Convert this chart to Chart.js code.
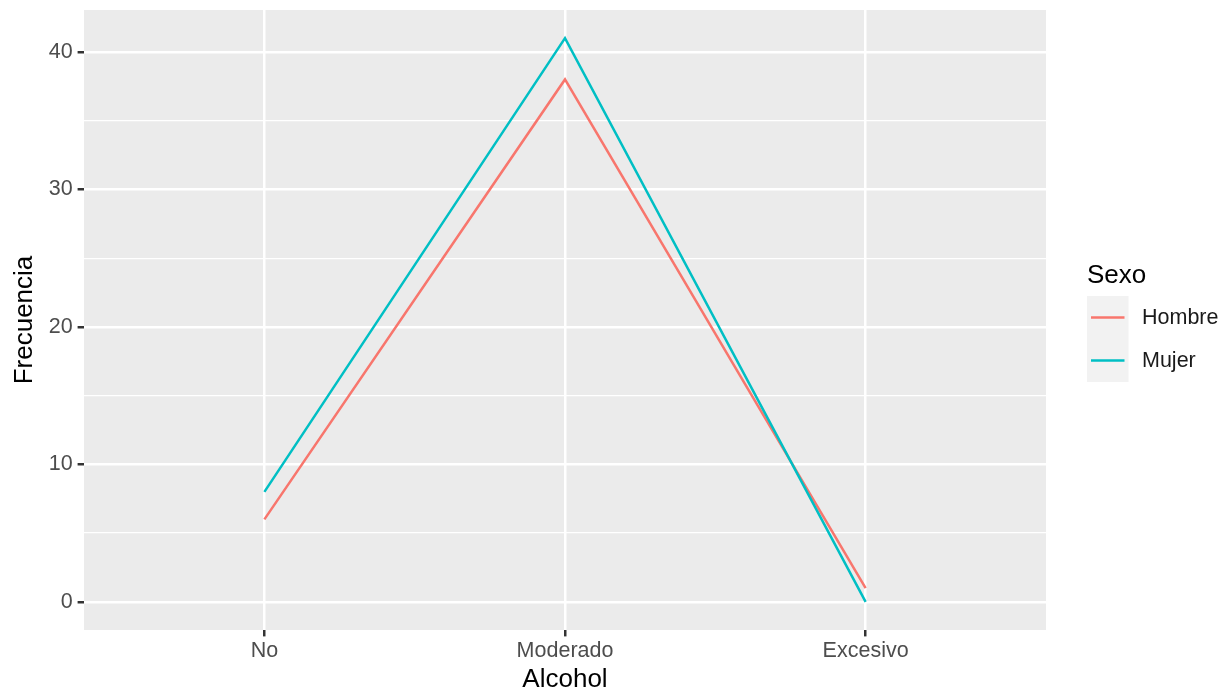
<!DOCTYPE html>
<html>
<head>
<meta charset="utf-8">
<script src="https://cdn.jsdelivr.net/npm/chart.js@4/dist/chart.umd.min.js"></script>
<style>
  html, body { margin: 0; padding: 0; background: #fff; }
  canvas { display: block; }
</style>
</head>
<body>
<canvas id="chart" width="1230" height="692"></canvas>
<script>
// datos
const categorias = ['No', 'Moderado', 'Excesivo'];
const hombre = [6, 38, 1];
const mujer = [8, 41, 0];
const yTicks = [0, 5, 10, 15, 20, 25, 30, 35, 40];
const yLabels = [0, 10, 20, 30, 40];

const FONT = '"Liberation Sans", Arial, Helvetica, sans-serif';

// fondo gris del panel (estilo ggplot)
const panelBg = {
    id: 'panelBg',
    beforeDraw(chart) {
        const a = chart.chartArea;
        const c = chart.ctx;
        c.save();
        c.fillStyle = '#EBEBEB';
        c.fillRect(a.left, a.top, a.right - a.left, a.bottom - a.top);
        c.restore();
    }
};

// leyenda a la derecha
const leyenda = {
    id: 'leyenda',
    afterDraw(chart) {
        const c = chart.ctx;
        const ds = chart.data.datasets;
        const x0 = 1087, y0 = 296, kw = 41.5, kh = 43;
        c.save();
        c.fillStyle = '#000';
        c.font = '26px ' + FONT;
        c.textBaseline = 'alphabetic';
        c.fillText('Sexo', 1087, 283);
        c.fillStyle = '#F2F2F2';
        c.fillRect(x0, y0, kw, kh * ds.length);
        c.font = '21.5px ' + FONT;
        c.textBaseline = 'middle';
        ds.forEach((d, i) => {
            const yc = y0 + kh * i + kh / 2;
            c.strokeStyle = d.borderColor;
            c.lineWidth = 2.5;
            c.beginPath();
            c.moveTo(x0 + 4, yc);
            c.lineTo(x0 + kw - 4, yc);
            c.stroke();
            c.fillStyle = '#1A1A1A';
            c.fillText(d.label, 1142, yc + 1);
        });
        c.restore();
    }
};

const ctx = document.getElementById('chart').getContext('2d');

const chart = new Chart(ctx, {
    type: 'line',
    data: {
        datasets: [{
            label: 'Hombre',
            data: hombre.map((v, i) => ({ x: i, y: v })),
            borderColor: '#F8766D',
            borderWidth: 2.5,
            pointRadius: 0,
            tension: 0,
            order: 1
        }, {
            label: 'Mujer',
            data: mujer.map((v, i) => ({ x: i, y: v })),
            borderColor: '#00BFC4',
            borderWidth: 2.5,
            pointRadius: 0,
            tension: 0,
            order: 0
        }]
    },
    options: {
        responsive: false,
        devicePixelRatio: 1,
        animation: false,
        layout: { padding: { top: 10, right: 184, bottom: 0, left: 0 } },
        plugins: {
            legend: { display: false },
            tooltip: { enabled: false }
        },
        scales: {
            x: {
                type: 'linear',
                min: -0.6,
                max: 2.6,
                afterBuildTicks: s => { s.ticks = categorias.map((_, i) => ({ value: i })); },
                afterFit: s => { s.height = 62; s.paddingLeft = 0; s.paddingRight = 0; },
                ticks: {
                    callback: v => categorias[v],
                    color: '#4D4D4D',
                    font: { family: FONT, size: 21.5 },
                    padding: 2,
                    maxRotation: 0
                },
                grid: {
                    color: '#FFFFFF',
                    lineWidth: 2.5,
                    tickColor: '#333333',
                    tickLength: 6.4,
                    tickWidth: 2.5
                },
                border: { display: false },
                title: {
                    display: true,
                    text: 'Alcohol',
                    color: '#000',
                    font: { family: FONT, size: 26, lineHeight: 1 },
                    padding: { top: 0, bottom: -1 }
                }
            },
            y: {
                min: -2.05,
                max: 43.05,
                afterBuildTicks: s => { s.ticks = yTicks.map(v => ({ value: v })); },
                afterFit: s => { s.width = 84; s.paddingTop = 0; s.paddingBottom = 0; },
                ticks: {
                    callback: v => yLabels.includes(v) ? String(v) : '',
                    color: '#4D4D4D',
                    font: { family: FONT, size: 21.5 },
                    padding: 5
                },
                grid: {
                    color: '#FFFFFF',
                    lineWidth: c => yLabels.includes(c.tick.value) ? 2.5 : 1.25,
                    tickColor: c => yLabels.includes(c.tick.value) ? '#333333' : 'rgba(0,0,0,0)',
                    tickLength: 6.4,
                    tickWidth: 2.5
                },
                border: { display: false },
                title: {
                    display: true,
                    text: 'Frecuencia',
                    color: '#000',
                    font: { family: FONT, size: 26, lineHeight: 1 },
                    padding: { top: 12, bottom: 0 }
                }
            }
        }
    },
    plugins: [panelBg, leyenda]
});
</script>
</body>
</html>
